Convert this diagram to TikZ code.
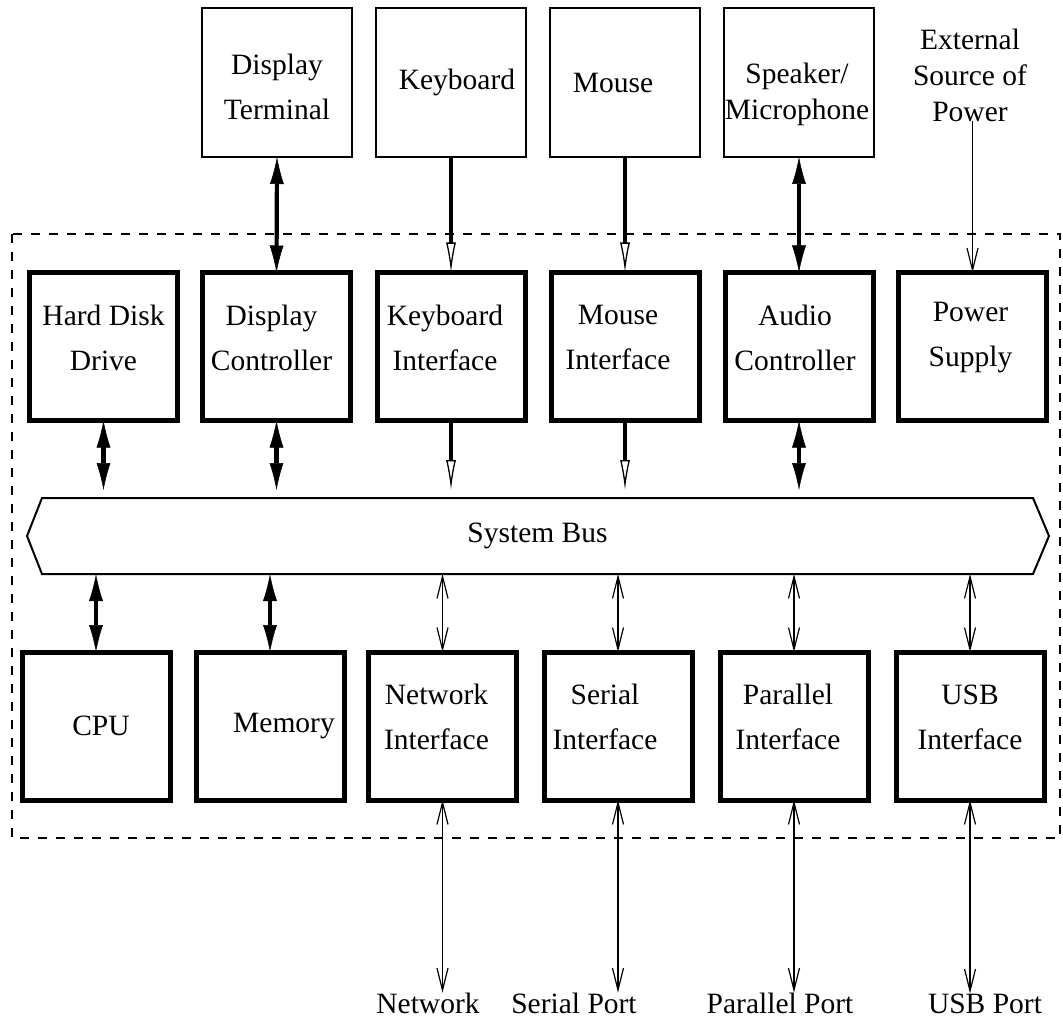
\documentclass[tikz,border=0pt]{standalone}
\usepackage{fontspec}
\setmainfont{Liberation Serif}
\usepackage{tikz}
\usetikzlibrary{arrows.meta, positioning, calc}

\begin{document}
\begin{tikzpicture}[x=1pt, y=-1pt,
        every node/.style={font=\fontsize{29.5}{45}\selectfont, align=center, inner sep=0pt, outer sep=0pt},
        device/.style={draw, line width=2.2pt, minimum width=150pt, minimum height=149pt},
        block/.style={draw, line width=5pt, minimum size=148pt},
        boldboth/.style={line width=4.2pt, {Latex[length=27pt,width=14pt,line width=0.5pt]}-{Latex[length=27pt,width=14pt,line width=0.5pt]}},
        boldin/.style={line width=4.2pt, -{Latex[open,length=30pt,width=10pt,line width=1.3pt]}},
        thinboth/.style={line width=1.2pt, {Straight Barb[length=22pt,width=11pt]}-{Straight Barb[length=22pt,width=11pt]}},
        thinin/.style={line width=1.2pt, -{Straight Barb[length=22pt,width=11pt]}}]
            \useasboundingbox (0,0) rectangle (1063,1027);
            \draw[line width=2pt, dash pattern=on 9pt off 9pt] (12,234) rectangle (1060,838);
            % outside devices
            \foreach \name/\x/\dx/\dy/\txt in {dterm/277/0/-4/{Display\\Terminal}, kbd/451/6/0/Keyboard,
                    mouse/625/-12/0/Mouse, spk/799/-2/-12/{Speaker/\\[-9pt]Microphone}} {
                    \node[device] (\name) at (\x,82.5) {};
                    \node (\name-t) at ([xshift=\dx pt, yshift=\dy pt]\name.center) {\txt};
                };
            \node (ext) at (970,75) {External\\[-9pt]Source of\\[-9pt]Power};
            % upper row of the unit
            \foreach \name/\x/\dx/\txt in {hdd/103.5/0/{Hard Disk\\Drive}, dctl/276.5/-5/{Display\\Controller},
                    kif/451/-6/{Keyboard\\Interface}, mif/625/-7/{Mouse\\Interface},
                    aud/799/-4/{Audio\\Controller}, psu/972.5/-2/{Power\\Supply}} {
                    \node[block] (\name) at (\x,346.5) {};
                    \node (\name-t) at ([xshift=\dx pt, yshift=9pt]\name.center) {\txt};
                };
            % lower row of the unit
            \foreach \name/\x/\dx/\dy/\txt in {cpu/96/5/0/CPU, mem/270/14/0/Memory,
                    net/442.5/-6/9/{Network\\Interface}, ser/618/-13/9/{Serial\\Interface},
                    par/794/-6/9/{Parallel\\Interface}, usb/970/0/9/{USB\\Interface}} {
                    \node[block] (\name) at (\x,726) {};
                    \node (\name-t) at ([xshift=\dx pt, yshift=\dy pt]\name.center) {\txt};
                };
            \node[minimum width=991pt, minimum height=76pt] (bus) at (537.5,536) {System Bus};
            \draw[line width=2pt] (bus.north west) -- (bus.north east) -- ([xshift=16pt]bus.east)
                -- (bus.south east) -- (bus.south west) -- ([xshift=-15pt]bus.west) -- cycle;
            \node[anchor=base] (netp) at (428,1013) {Network};
            \node[anchor=base] (serp) at (574,1013) {Serial Port};
            \node[anchor=base] (parp) at (780,1013) {Parallel Port};
            \node[anchor=base] (usbp) at (985,1013) {USB Port};
            % connectors
            \draw[boldboth] (dterm.south) -- (dctl.north);
            \draw[boldin] (kbd.south) -- (kif.north);
            \draw[boldin] (mouse.south) -- (mif.north);
            \draw[boldboth] (spk.south) -- (aud.north);
            \draw[thinin] (psu.north |- ext.south) -- (psu.north);
            \foreach \name in {hdd, dctl, aud} {
                    \draw[boldboth, shorten >=8pt] (\name.south) -- (\name.south |- bus.north);
                };
            \foreach \name in {kif, mif} {
                    \draw[boldin, shorten >=8pt] (\name.south) -- (\name.south |- bus.north);
                };
            \foreach \name in {cpu, mem} {
                    \draw[boldboth] (\name.north |- bus.south) -- (\name.north);
                };
            \foreach \name/\port in {net/netp, ser/serp, par/parp, usb/usbp} {
                    \draw[thinboth] (\name.north |- bus.south) -- (\name.north);
                    \draw[thinboth] (\name.south) -- (\name.south |- \port.north);
                };
        \end{tikzpicture}
\end{document}
